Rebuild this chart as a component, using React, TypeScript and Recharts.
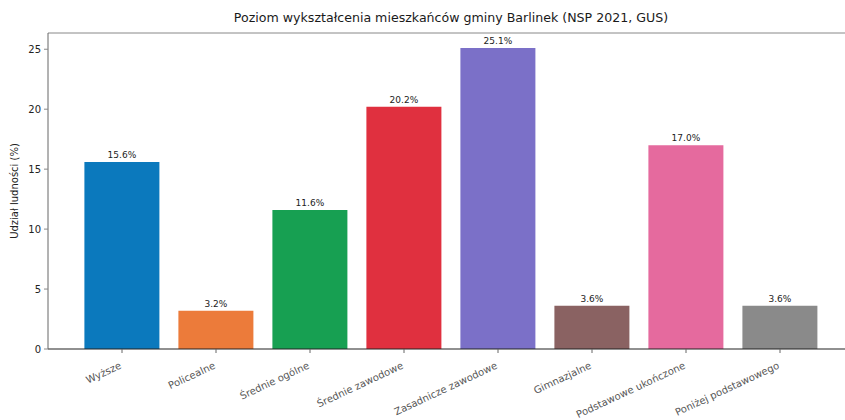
import React from "react";
import { BarChart, Bar, XAxis, YAxis, LabelList, Cell, ReferenceLine } from "recharts";

const categories = [
  "Wyższe",
  "Policealne",
  "Średnie ogólne",
  "Średnie zawodowe",
  "Zasadnicze zawodowe",
  "Gimnazjalne",
  "Podstawowe ukończone",
  "Poniżej podstawowego",
];
const shares = [15.6, 3.2, 11.6, 20.2, 25.1, 3.6, 17.0, 3.6];
const barColors = ["#0b79bd", "#ec7b3a", "#17a052", "#e0303f", "#7b70c8", "#8a6262", "#e56a9e", "#8a8a8a"];
const yTicks = [0, 5, 10, 15, 20, 25];
const title = "Poziom wykształcenia mieszkańców gminy Barlinek (NSP 2021, GUS)";
const yLabel = "Udział ludności (%)";

const data = categories.map((name, i) => ({ name, value: shares[i] }));
const yMax = Math.max(...shares) * 1.05;

const FONT = "'DejaVu Sans', sans-serif";

const XTick = (props: any) => {
  const { x, y, payload } = props;
  return (
    <g transform={`translate(${x},${y})`}>
      <text
        x={0}
        y={0}
        dy={13}
        textAnchor="end"
        transform="rotate(-25, 0, 13)"
        fontSize={10}
        fontFamily={FONT}
        fill="#555"
      >
        {payload.value}
      </text>
    </g>
  );
};

export default function App() {
  return (
    <div
      style={{
        position: "fixed",
        left: 0,
        top: 0,
        width: 845,
        height: 420,
        overflow: "hidden",
        background: "#fff",
      }}
    >
      <div
        style={{
          position: "absolute",
          left: 0,
          top: 10,
          width: 902,
          textAlign: "center",
          fontFamily: FONT,
          fontSize: 12.6,
          color: "#1a1a1a",
          whiteSpace: "nowrap",
        }}
      >
        {title}
      </div>
      <BarChart
        width={860}
        height={420}
        data={data}
        margin={{ top: 33, right: 6, bottom: 0, left: 0 }}
        barCategoryGap="10%"
      >
        <XAxis
          dataKey="name"
          interval={0}
          height={71}
          padding={{ left: 27, right: 27 }}
          tick={<XTick />}
          tickSize={4}
          tickLine={{ stroke: "#666" }}
          axisLine={{ stroke: "#222", strokeWidth: 1.2 }}
        />
        <YAxis
          width={48}
          domain={[0, yMax]}
          ticks={yTicks}
          tickSize={4}
          tickMargin={3}
          tickLine={{ stroke: "#888" }}
          axisLine={{ stroke: "#666" }}
          tick={{ fontSize: 10, fontFamily: FONT, fill: "#222" }}
          label={{
            content: (p: any) => {
              const vb = p.viewBox;
              const cy = vb.y + vb.height / 2;
              return (
                <text
                  x={14}
                  y={cy}
                  textAnchor="middle"
                  dominantBaseline="central"
                  transform={`rotate(-90, 14, ${cy})`}
                  fontSize={10}
                  fontFamily={FONT}
                  fill="#222"
                >
                  {yLabel}
                </text>
              );
            },
          }}
        />
        <ReferenceLine y={yMax} stroke="#888" strokeWidth={1} />
        <Bar dataKey="value" isAnimationActive={false}>
          {data.map((d, i) => (
            <Cell key={d.name} fill={barColors[i]} />
          ))}
          <LabelList
            dataKey="value"
            position="top"
            offset={4}
            formatter={(v: any) => `${Number(v).toFixed(1)}%`}
            style={{ fontSize: 9, fontFamily: FONT, fill: "#222" }}
          />
        </Bar>
      </BarChart>
    </div>
  );
}
